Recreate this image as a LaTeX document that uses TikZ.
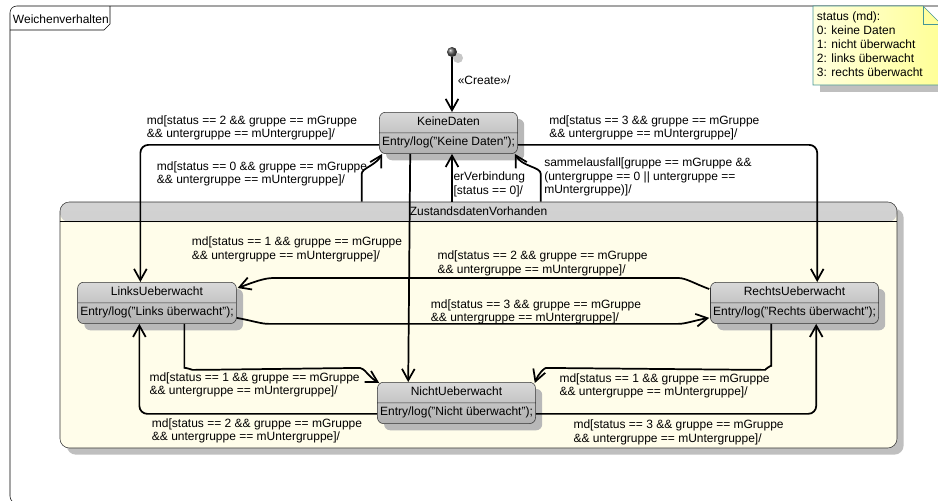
\documentclass[tikz,border=0pt]{standalone}
\usepackage{fontspec}
\setmainfont{Liberation Sans}
\usetikzlibrary{arrows.meta}
\usetikzlibrary{calc}
\usetikzlibrary{fit}
\usetikzlibrary{shapes.multipart}
\usetikzlibrary{shadows}
\definecolor{zbg}{RGB}{255,253,234}
\definecolor{notebd}{RGB}{70,150,150}
\definecolor{notelt}{RGB}{255,255,222}
\definecolor{notedk}{RGB}{255,255,150}
\tikzset{
    lbl/.style = {align=left, inner sep=0pt, anchor=north west},
    st_node/.style = {rectangle split, rectangle split parts=2, rectangle split draw splits, anchor=north,
        draw=black!80, thin, rounded corners=4.5pt, top color=gray!30, bottom color=gray!62,
        inner xsep=2pt, inner ysep=2.5pt,
        drop shadow={shadow xshift=5pt, shadow yshift=-5pt, fill=black!28, opacity=1}},
    init_node/.style = {circle, inner sep=0pt, minimum size=7.5pt, ball color=gray!70!black,
        drop shadow={shadow xshift=4.5pt, shadow yshift=-4.5pt, fill=black!22, opacity=1}},
    comp_node/.style = {draw=black!80, thin, rounded corners=7pt, fill=zbg, inner sep=0pt,
        drop shadow={shadow xshift=5pt, shadow yshift=-5pt, fill=black!25, opacity=1},
        path picture={\shade[top color=gray!35, bottom color=gray!55] (path picture bounding box.north west) rectangle ([yshift=-15pt]path picture bounding box.north east);}},
    trans/.style = {->, line width=1.3pt, rounded corners=6pt}
}

\begin{document}
\begin{tikzpicture}[x=0.75pt, y=-0.75pt, >={Straight Barb[length=8.5pt, width=9.5pt]}, font=\fontsize{9}{10.1}\selectfont]
    \path[use as bounding box] (0,0) rectangle (938,500);
    \clip (0,0) rectangle (938,500);
    \draw[thin, rounded corners=5pt] (10,6) rectangle (950,503);
    \draw[thin] (10,30) -- (104,30) -- (110,24) -- (110,6);
    \node[anchor=base west, inner sep=0pt] (title) at (12.7,23.5) {Weichenverhalten};

    \fill[black!25] (820,85) rectangle (945,92);
    \shade[left color=notelt, right color=notedk, draw=notebd] (813,6) -- (923,6) -- (941,24) -- (941,85) -- (813,85) -- cycle;
    \draw[notebd] (923,6) -- (923,24) -- (941,24);
    \node[lbl, font=\fontsize{9}{10.5}\selectfont] (note) at (816.7,11.7) {status (md):\\0: keine Daten\\1: nicht überwacht\\2: links überwacht\\3: rechts überwacht};

    \node[comp_node, fit={(60,202) (897,448)}] (zust) {};
    \draw[thin] ($(zust.north west)+(0,20)$) -- ($(zust.north east)+(0,20)$);
    \node[anchor=base, inner sep=0pt] (zhead) at ($(zust.north)+(0,14)$) {ZustandsdatenVorhanden};

    \node[init_node] (init) at (452,52) {};
    \node[st_node] (keine) at (448.5,112) {KeineDaten\strut\nodepart{two}Entry/log("Keine Daten");\strut};
    \node[st_node] (links) at (157,282) {LinksUeberwacht\strut\nodepart{two}Entry/log("Links überwacht");\strut};
    \node[st_node] (rechts) at (794.5,282) {RechtsUeberwacht\strut\nodepart{two}Entry/log("Rechts überwacht");\strut};
    \node[st_node] (nicht) at (456.5,382) {NichtUeberwacht\strut\nodepart{two}Entry/log("Nicht überwacht");\strut};

    \draw[trans] (init) -- (init |- keine.north);
    \draw[trans] ($(keine.south west)+(0,-9)$) -| ($(links.north west)+(63,0)$);
    \draw[trans] ($(keine.south east)+(0,-9)$) -| ($(rechts.north west)+(107,0)$);
    \draw[trans] ($(zust.north west)+(302,0)$) -- ++(0,-20) to[out=90, in=-120] ($(keine.south west)+(3,0)$);
    \draw[trans] ($(keine.south west)+(31,0)$) -- ($(nicht.north west)+(31,0)$);
    \draw[trans] (init |- zust.north) -- (init |- keine.south);
    \draw[trans] ($(zust.north west)+(481,0)$) -- ++(0,-20) to[out=90, in=-60] ($(keine.south east)+(-3,0)$);
    \draw[trans] ($(rechts.north west)+(-1,7)$) to[out=160, in=0] ($(rechts.north west)+(-40,-4)$) -- ($(links.north east)+(45,-4)$) to[out=180, in=20] ($(links.north east)+(1,6)$);
    \draw[trans] ($(links.south east)+(0,-6)$) to[out=-10, in=180] ($(links.south east)+(40,0)$) -- ($(rechts.south west)+(-40,0)$) to[out=0, in=190] ($(rechts.south west)+(-1,-6)$);
    \draw[trans] ($(links.south west)+(107,0)$) -- ++(0,36) to[out=-90, in=180] ++(16,10) -- ($(nicht.north west)+(-25,-14)$) to[out=0, in=150] ($(nicht.north west)+(2,1)$);
    \draw[trans] ($(nicht.south west)+(0,-10)$) -| ($(links.south west)+(62,0)$);
    \draw[trans] ($(rechts.south west)+(61,0)$) -- ++(0,34) to[out=-90, in=0] ++(-14,12) -- ($(nicht.north east)+(18,-14)$) to[out=180, in=70] ($(nicht.north east)+(-1,1)$);
    \draw[trans] ($(nicht.south east)+(0,-10)$) -| ($(rechts.south west)+(106,0)$);

    \node[anchor=base west, inner sep=0pt] (create) at (457.5,84.5) {«Create»/};
    \node[lbl] (t1) at (146.7,115.2) {md[status == 2 \&\& gruppe == mGruppe\\\&\& untergruppe == mUntergruppe]/};
    \node[lbl] (t2) at (549,115.2) {md[status == 3 \&\& gruppe == mGruppe\\\&\& untergruppe == mUntergruppe]/};
    \node[lbl] (t3) at (156.7,161.2) {md[status == 0 \&\& gruppe == mGruppe\\\&\& untergruppe == mUntergruppe]/};
    \node[lbl] (t4) at (453.3,171.7) {erVerbindung\\{}[status == 0]/};
    \node[lbl] (t5) at (544,157.7) {sammelausfall[gruppe == mGruppe \&\&\\(untergruppe == 0 || untergruppe ==\\mUntergruppe)]/};
    \node[lbl] (t6) at (191.7,236.7) {md[status == 1 \&\& gruppe == mGruppe\\\&\& untergruppe == mUntergruppe]/};
    \node[lbl] (t7) at (437.3,250.7) {md[status == 2 \&\& gruppe == mGruppe\\\&\& untergruppe == mUntergruppe]/};
    \node[lbl] (t8) at (430.7,299.2) {md[status == 3 \&\& gruppe == mGruppe\\\&\& untergruppe == mUntergruppe]/};
    \node[lbl] (t9) at (149.3,372.2) {md[status == 1 \&\& gruppe == mGruppe\\\&\& untergruppe == mUntergruppe]/};
    \node[lbl] (t10) at (151.7,418.2) {md[status == 2 \&\& gruppe == mGruppe\\\&\& untergruppe == mUntergruppe]/};
    \node[lbl] (t11) at (559.3,373.2) {md[status == 1 \&\& gruppe == mGruppe\\\&\& untergruppe == mUntergruppe]/};
    \node[lbl] (t12) at (573.3,419.7) {md[status == 3 \&\& gruppe == mGruppe\\\&\& untergruppe == mUntergruppe]/};
\end{tikzpicture}
\end{document}
